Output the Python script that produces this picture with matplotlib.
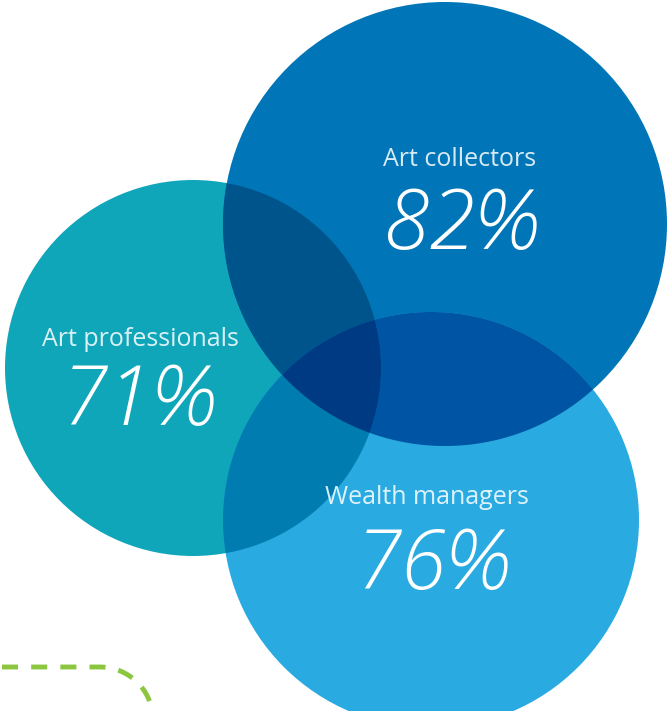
''' Venn-style bubble chart: share of each group (figures in %)
Overlaps are drawn as convex polygons in darker shades.
'''
import numpy as np
import matplotlib.pyplot as plt
from matplotlib.patches import Circle, Polygon

'''------ DATA -----'''
groups = ['Art collectors', 'Art professionals', 'Wealth managers']
shares = [82, 71, 76]  # percent

'''------ LAYOUT (pixel units, y grows downward) -----'''
centers = [(445, 224), (193, 368), (431, 520)]
radii = [222, 188, 208]
base_colors = ['#0076b8', '#10a6ba', '#29abe2']
# overlap shades, keyed by the indices of the circles involved
overlap_colors = {
    (0, 1): '#00548c',
    (0, 2): '#0054a4',
    (1, 2): '#007cb0',
    (0, 1, 2): '#003a82',
}
label_pos = [(460, 159), (140, 339), (427, 498)]
value_pos = [(461, 227), (138, 404), (432, 567)]


def circle_pts(c, r, n=1500):
    t = np.linspace(0, 2 * np.pi, n, endpoint=False)
    return np.column_stack([c[0] + r * np.cos(t), c[1] + r * np.sin(t)])


def intersection(idx):
    # intersection of circles is convex -> collect boundary points inside all, sort by angle
    pts = []
    for i in idx:
        p = circle_pts(centers[i], radii[i])
        keep = np.ones(len(p), bool)
        for j in idx:
            if j == i:
                continue
            d = np.hypot(p[:, 0] - centers[j][0], p[:, 1] - centers[j][1])
            keep &= d <= radii[j]
        pts.append(p[keep])
    pts = np.vstack(pts)
    m = pts.mean(axis=0)
    ang = np.arctan2(pts[:, 1] - m[1], pts[:, 0] - m[0])
    return pts[np.argsort(ang)]


fig = plt.figure(figsize=(6.72, 7.11), dpi=100)
ax = fig.add_axes([0, 0, 1, 1])
ax.set_xlim(0, 672)
ax.set_ylim(711, 0)
ax.set_aspect('equal')
ax.axis('off')

for i in [1, 0, 2]:
    ax.add_patch(Circle(centers[i], radii[i], color=base_colors[i], lw=0, zorder=1))
for idx, col in overlap_colors.items():
    ax.add_patch(Polygon(intersection(idx), closed=True, color=col, lw=0, zorder=2 + len(idx)))

plt.rcParams['font.family'] = ['Open Sans', 'DejaVu Sans']
for name, val, lp, vp in zip(groups, shares, label_pos, value_pos):
    ax.text(lp[0], lp[1], name, color='white', alpha=0.85, fontsize=18,
            ha='center', va='center', zorder=10)
    ax.text(vp[0], vp[1], f'{val}%', color='white', fontsize=60, style='italic',
            fontweight='light', ha='center', va='center', zorder=10)

# green dashed connector in the lower-left corner
t = np.linspace(np.pi / 2, np.pi / 14, 60)
xs = np.concatenate([[2, 100], 100 + 53 * np.cos(t)])
ys = np.concatenate([[667, 667], 720 - 53 * np.sin(t)])
ax.plot(xs, ys, color='#8cc63f', lw=3.5, dashes=(3.3, 2.7), solid_capstyle='butt', zorder=0)

fig.savefig('out.png', dpi=100)
